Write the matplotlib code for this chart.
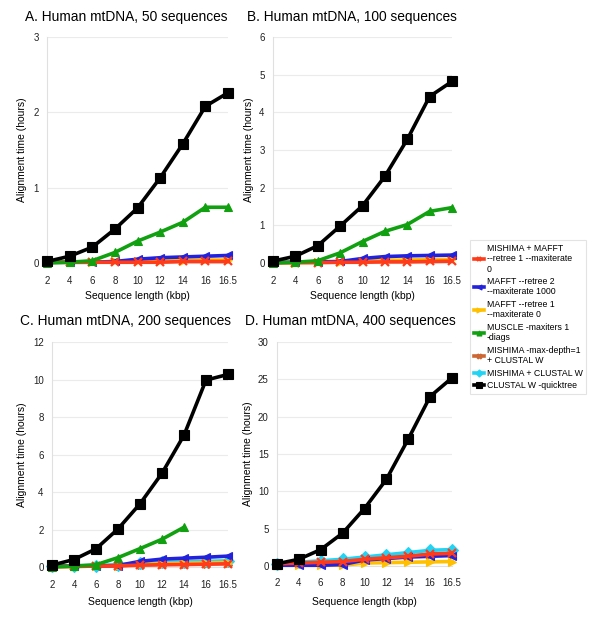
import matplotlib
matplotlib.use("Agg")
import matplotlib.pyplot as plt

plt.rcParams['font.family'] = ['Liberation Sans', 'DejaVu Sans']

# Sequence lengths (kbp), plotted as categories
lengths = ["2", "4", "6", "8", "10", "12", "14", "16", "16.5"]

labels = [
    "MISHIMA + MAFFT\n--retree 1 --maxiterate\n0",
    "MAFFT --retree 2\n--maxiterate 1000",
    "MAFFT --retree 1\n--maxiterate 0",
    "MUSCLE -maxiters 1\n-diags",
    "MISHIMA -max-depth=1\n+ CLUSTAL W",
    "MISHIMA + CLUSTAL W",
    "CLUSTAL W -quicktree",
]
colors = ["#FF3B1A", "#2222DD", "#FFC000", "#10A010", "#CC6633", "#22D4F4", "#000000"]
markers = ["x", "<", ">", "^", "X", "D", "s"]

# A. 50 sequences (hours)
a_mishima_mafft = [0.01, 0.01, 0.01, 0.01, 0.01, 0.01, 0.02, 0.02, 0.02]
a_mafft_r2 = [0.01, 0.01, 0.01, 0.02, 0.05, 0.07, 0.08, 0.09, 0.10]
a_mafft_r1 = [0.01, 0.01, 0.01, 0.02, 0.02, 0.03, 0.03, 0.04, 0.04]
a_muscle = [0.0, 0.01, 0.03, 0.14, 0.29, 0.41, 0.54, 0.74, 0.74]
a_clustalw = [0.02, 0.09, 0.21, 0.45, 0.73, 1.13, 1.58, 2.08, 2.26]

# B. 100 sequences
b_mishima_mafft = [0.01, 0.01, 0.01, 0.02, 0.02, 0.03, 0.03, 0.04, 0.05]
b_mafft_r2 = [0.02, 0.02, 0.03, 0.04, 0.12, 0.17, 0.19, 0.20, 0.21]
b_mafft_r1 = [0.01, 0.01, 0.02, 0.03, 0.05, 0.07, 0.08, 0.09, 0.10]
b_muscle = [0.0, 0.02, 0.06, 0.27, 0.57, 0.84, 1.02, 1.37, 1.47]
b_clustalw = [0.05, 0.18, 0.46, 0.98, 1.52, 2.30, 3.28, 4.42, 4.82]

# C. 200 sequences
c_mishima_mafft = [0.03, 0.04, 0.05, 0.06, 0.10, 0.12, 0.13, 0.15, 0.17]
c_mafft_r2 = [0.05, 0.05, 0.05, 0.08, 0.30, 0.42, 0.47, 0.52, 0.58]
c_mafft_r1 = [0.02, 0.03, 0.05, 0.08, 0.14, 0.17, 0.20, 0.22, 0.24]
c_muscle = [0.0, 0.05, 0.12, 0.50, 0.98, 1.48, 2.12]
c_mishima_cw_depth = [0.02, 0.03, 0.05, 0.07, 0.12, 0.14, 0.16, 0.18, 0.19]
c_mishima_cw = [0.05, 0.06, 0.08, 0.12, 0.20, 0.25, 0.28, 0.30, 0.33]
c_clustalw = [0.10, 0.40, 0.97, 2.03, 3.37, 5.00, 7.03, 9.97, 10.27]

# D. 400 sequences
d_mishima_mafft = [0.3, 0.4, 0.5, 0.6, 0.9, 1.1, 1.3, 1.6, 1.7]
d_mafft_r2 = [0.1, 0.1, 0.1, 0.2, 0.8, 1.0, 1.2, 1.3, 1.4]
d_mafft_r1 = [0.1, 0.1, 0.1, 0.1, 0.4, 0.45, 0.5, 0.55, 0.6]
d_muscle = [0.2]
d_mishima_cw_depth = [0.3, 0.4, 0.5, 0.6, 0.9, 1.1, 1.3, 1.55, 1.65]
d_mishima_cw = [0.3, 0.5, 0.7, 0.9, 1.2, 1.5, 1.8, 2.1, 2.2]
d_clustalw = [0.3, 0.9, 2.2, 4.4, 7.7, 11.6, 17.0, 22.7, 25.2]

panels = [
    ("A. Human mtDNA, 50 sequences", 3, 1,
     [a_mishima_mafft, a_mafft_r2, a_mafft_r1, a_muscle, None, None, a_clustalw]),
    ("B. Human mtDNA, 100 sequences", 6, 1,
     [b_mishima_mafft, b_mafft_r2, b_mafft_r1, b_muscle, None, None, b_clustalw]),
    ("C. Human mtDNA, 200 sequences", 12, 2,
     [c_mishima_mafft, c_mafft_r2, c_mafft_r1, c_muscle, c_mishima_cw_depth, c_mishima_cw, c_clustalw]),
    ("D. Human mtDNA, 400 sequences", 30, 5,
     [d_mishima_mafft, d_mafft_r2, d_mafft_r1, d_muscle, d_mishima_cw_depth, d_mishima_cw, d_clustalw]),
]

W, H = 600, 626
fig = plt.figure(figsize=(6, 6.26), dpi=100)

# axes rectangles in pixels: left, top, right, bottom
rects = [(47, 37, 228, 263), (273, 37, 452, 263), (52, 342, 228, 567), (277, 342, 452, 566)]
title_pos = [(25, 17), (247, 17), (20, 321), (245, 321)]
ylab_x = [22, 249, 22, 248]
xlab_y = [296, 296, 602, 602]

# draw order: put black and green on top
order = [4, 5, 2, 1, 0, 3, 6]
handles = [None] * 7
for i, (title, ymax, step, series) in enumerate(panels):
    l, t, r, b = rects[i]
    ax = fig.add_axes([l / W, 1 - b / H, (r - l) / W, (b - t) / H])
    for k in order:
        vals = series[k]
        if vals is None:
            continue
        ms = 7 if markers[k] == "s" else 6
        mew = 1.6 if markers[k] == "x" else 0.8
        h, = ax.plot(range(len(vals)), vals, color=colors[k], lw=2.6, marker=markers[k],
                     ms=ms, mew=mew, mec=colors[k], clip_on=False, zorder=3)
        handles[k] = h
    ax.set_xlim(0, len(lengths) - 1)
    ax.set_ylim(0, ymax)
    ax.set_xticks(range(len(lengths)))
    ax.set_xticklabels(lengths)
    ax.set_yticks(range(0, ymax + 1, step))
    ax.tick_params(length=0, labelsize=7, colors="#222222")
    ax.tick_params(axis="x", pad=9)
    ax.tick_params(axis="y", pad=6)
    ax.grid(axis="y", color="#EBEBEB", lw=0.8)
    ax.set_axisbelow(True)
    for s in ["top", "right"]:
        ax.spines[s].set_visible(False)
    for s in ["left", "bottom"]:
        ax.spines[s].set_color("#E0E0E0")
    fig.text(title_pos[i][0] / W, 1 - title_pos[i][1] / H, title, fontsize=9.9,
             ha="left", va="center")
    fig.text(ylab_x[i] / W, 1 - (t + b) / 2 / H, "Alignment time (hours)", fontsize=7.5,
             rotation=90, ha="center", va="center")
    fig.text((l + r) / 2 / W, 1 - xlab_y[i] / H, "Sequence length (kbp)", fontsize=7.5,
             ha="center", va="center")

leg = fig.legend(handles, labels, loc="center left", bbox_to_anchor=(466 / W, 1 - 317 / H),
                 fontsize=6.3, frameon=True, fancybox=False, handlelength=1.2,
                 handletextpad=0.3, borderpad=0.4, labelspacing=0.4, markerscale=0.6)
leg.get_frame().set_edgecolor("#DDDDDD")
leg.get_frame().set_linewidth(0.8)

fig.savefig("out.png", dpi=100)
